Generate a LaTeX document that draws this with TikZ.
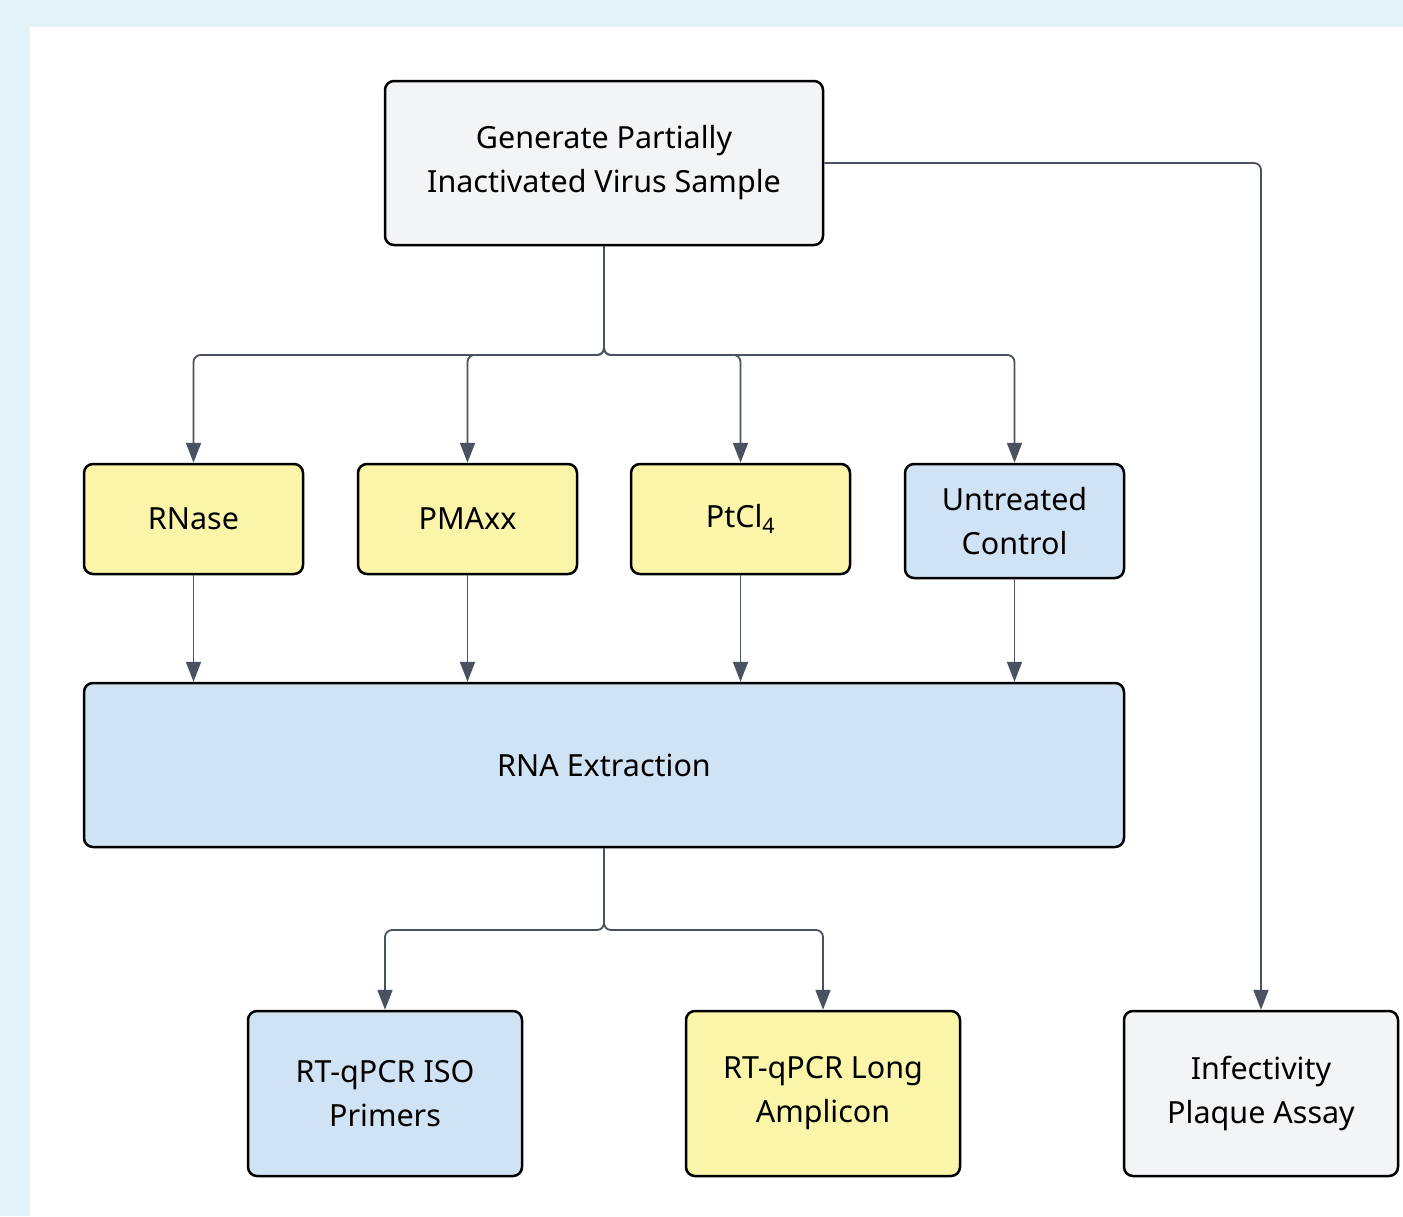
\documentclass[tikz,border=0pt]{standalone}
\usepackage{fontspec}
\setmainfont{Noto Sans}
\usetikzlibrary{arrows.meta}
\definecolor{framebg}{HTML}{E3F2F8}
\definecolor{boxgray}{HTML}{F3F4F6}
\definecolor{boxyellow}{HTML}{FAF5A9}
\definecolor{boxblue}{HTML}{D0E3F4}
\definecolor{linkgray}{HTML}{4A5160}
\tikzset{
  box/.style={draw=black, line width=2.5pt, rounded corners=9pt, align=center,
    inner sep=0pt, font=\fontsize{30.5}{44}\selectfont},
  link/.style={draw=linkgray, line width=1.8pt, rounded corners=7pt,
    -{Triangle[length=20pt,width=15pt]}}
}
\begin{document}
\begin{tikzpicture}[x=1pt,y=-1pt]
      % frame
      \useasboundingbox (0,0) rectangle (1403,1216);
      \fill[framebg] (0,0) rectangle (1403,1216);
      \fill[white] (30,27) rectangle (1403,1216);
      % sample
      \node[box, fill=boxgray, minimum width=438pt, minimum height=164pt] (gen) at (604,163) {Generate Partially\\Inactivated Virus Sample};
      % treatments
      \node[box, fill=boxyellow, minimum width=219pt, minimum height=110pt] (rnase) at (193.5,519) {RNase};
      \node[box, fill=boxyellow, minimum width=219pt, minimum height=110pt] (pmaxx) at (467.5,519) {PMAxx};
      \node[box, fill=boxyellow, minimum width=219pt, minimum height=110pt] (ptcl) at (740.5,519) {PtCl\textsubscript{4}};
      \node[box, fill=boxblue, minimum width=219pt, minimum height=114pt] (ctrl) at (1014.5,521) {Untreated\\Control};
      % extraction
      \node[box, fill=boxblue, minimum width=1040pt, minimum height=164pt] (extract) at (604,765) {RNA Extraction};
      % read-outs
      \node[box, fill=boxblue, minimum width=274pt, minimum height=165pt] (iso) at (385,1093.5) {RT-qPCR ISO\\Primers};
      \node[box, fill=boxyellow, minimum width=274pt, minimum height=165pt] (long) at (823,1093.5) {RT-qPCR Long\\Amplicon};
      \node[box, fill=boxgray, minimum width=274pt, minimum height=165pt] (plaque) at (1261,1093.5) {Infectivity\\Plaque Assay};
      % split points
      \coordinate (split1) at (604,355);
      \coordinate (split2) at (604,930);
      % arrows to treatments
      \draw[link] (gen.south) -- (split1) -| (rnase.north);
      \draw[link] (gen.south) -- (split1) -| (pmaxx.north);
      \draw[link] (gen.south) -- (split1) -| (ptcl.north);
      \draw[link] (gen.south) -- (split1) -| (ctrl.north);
      \draw[link] (gen.east) -| (plaque.north);
      % arrows to extraction
      \draw[link] (rnase.south) -- (rnase.south |- extract.north);
      \draw[link] (pmaxx.south) -- (pmaxx.south |- extract.north);
      \draw[link] (ptcl.south) -- (ptcl.south |- extract.north);
      \draw[link] (ctrl.south) -- (ctrl.south |- extract.north);
      % arrows to read-outs
      \draw[link] (extract.south) -- (split2) -| (iso.north);
      \draw[link] (extract.south) -- (split2) -| (long.north);
\end{tikzpicture}
\end{document}
